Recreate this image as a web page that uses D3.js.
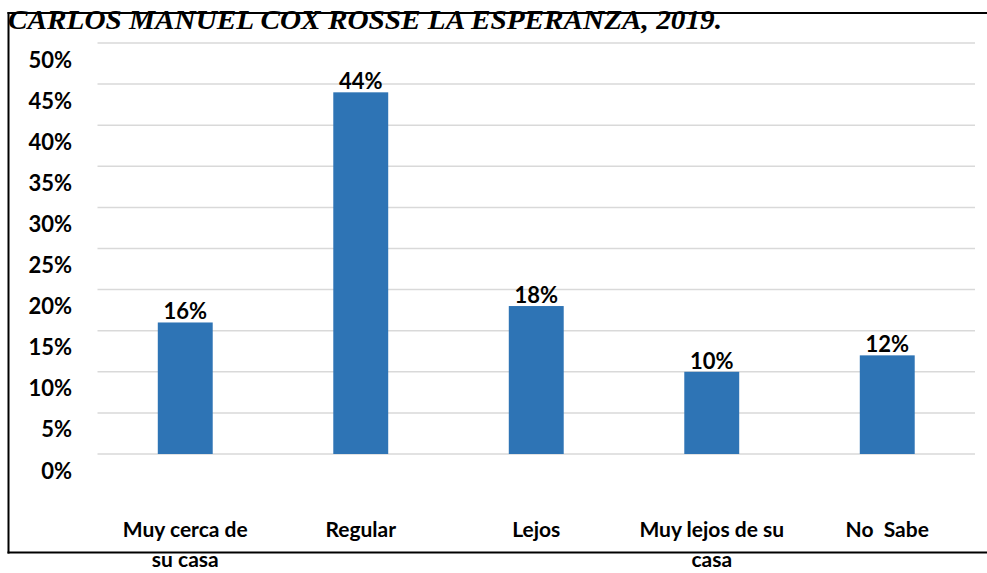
<!DOCTYPE html>
<html>
<head>
<meta charset="utf-8">
<script src="https://cdn.jsdelivr.net/npm/d3@7"></script>
<style>
  html, body { margin: 0; padding: 0; background: #fff; }
  svg { display: block; }
  text { white-space: pre; }
</style>
</head>
<body>
<svg id="chart" width="987" height="573"></svg>
<script>
// Distance categories (two-line labels) and their percentages
const categories = [
  ["Muy cerca de", "su casa"],
  ["Regular"],
  ["Lejos"],
  ["Muy lejos de su", "casa"],
  ["No  Sabe"]
];
const values = [0.16, 0.44, 0.18, 0.10, 0.12];
const yTicks = [0, 0.05, 0.10, 0.15, 0.20, 0.25, 0.30, 0.35, 0.40, 0.45, 0.50];
const titleText = "CARLOS MANUEL COX ROSSE LA ESPERANZA, 2019.";

const svg = d3.select("#chart");
const W = 987, H = 573;

const plot = { left: 97.5, right: 975, top: 43, bottom: 454 };

const x = d3.scaleBand()
  .domain(d3.range(categories.length))
  .range([plot.left, plot.right])
  .paddingInner(0.687)
  .paddingOuter(0.3435);

const y = d3.scaleLinear()
  .domain([0, 0.5])
  .range([plot.bottom, plot.top]);

const fmt = d3.format(".0%");
const labelFont = "Lato, 'Open Sans', sans-serif";

// Frame lines: left edge, top and bottom rules
const frame = svg.append("g").attr("stroke", "#000").attr("stroke-width", 2).attr("fill", "none");
frame.append("line").attr("x1", 8.5).attr("x2", 8.5).attr("y1", 12).attr("y2", 553.5);
frame.append("line").attr("x1", 7.5).attr("x2", W).attr("y1", 13).attr("y2", 13);
frame.append("line").attr("x1", 7.5).attr("x2", W).attr("y1", 552.5).attr("y2", 552.5);

// Horizontal gridlines
svg.append("g")
  .attr("class", "grid")
  .selectAll("line")
  .data(yTicks)
  .join("line")
  .attr("x1", plot.left)
  .attr("x2", plot.right)
  .attr("y1", d => y(d))
  .attr("y2", d => y(d))
  .attr("stroke", "#d9d9d9")
  .attr("stroke-width", 1.5);

// Y axis tick labels (no domain line or tick marks)
const yAxis = d3.axisLeft(y)
  .tickValues(yTicks)
  .tickFormat(fmt)
  .tickSize(0)
  .tickPadding(0);

const yg = svg.append("g")
  .attr("transform", "translate(72,0)")
  .call(yAxis);
yg.select(".domain").remove();
yg.selectAll("text")
  .attr("dy", "24px")
  .attr("font-family", labelFont)
  .attr("font-weight", "bold")
  .attr("font-size", 22)
  .attr("fill", "#000");

// Bars
svg.append("g")
  .selectAll("rect")
  .data(values)
  .join("rect")
  .attr("x", (d, i) => x(i))
  .attr("width", x.bandwidth())
  .attr("y", d => y(d))
  .attr("height", d => y(0) - y(d))
  .attr("fill", "#2e74b5");

// Value labels above bars
svg.append("g")
  .selectAll("text")
  .data(values)
  .join("text")
  .attr("x", (d, i) => x(i) + x.bandwidth() / 2)
  .attr("y", d => y(d) - 3)
  .attr("text-anchor", "middle")
  .attr("font-family", labelFont)
  .attr("font-weight", "bold")
  .attr("font-size", 22)
  .attr("fill", "#000")
  .text(d => fmt(d));

// Category labels along the bottom; second lines sit below the bottom rule
const catG = svg.append("g");
categories.forEach((lines, i) => {
  const t = catG.append("text")
    .attr("text-anchor", "middle")
    .attr("font-family", labelFont)
    .attr("font-weight", "bold")
    .attr("font-size", 21)
    .attr("fill", "#000");
  lines.forEach((ln, j) => {
    t.append("tspan")
      .attr("x", x(i) + x.bandwidth() / 2)
      .attr("y", 537 + j * 30)
      .text(ln);
  });
});

// Title overlapping the top rule
svg.append("text")
  .attr("x", 8)
  .attr("y", 29)
  .attr("font-family", "'Liberation Serif', 'Times New Roman', serif")
  .attr("font-style", "italic")
  .attr("font-weight", "bold")
  .attr("font-size", 27)
  .attr("textLength", 714)
  .attr("lengthAdjust", "spacingAndGlyphs")
  .attr("fill", "#000")
  .text(titleText);
</script>
</body>
</html>
